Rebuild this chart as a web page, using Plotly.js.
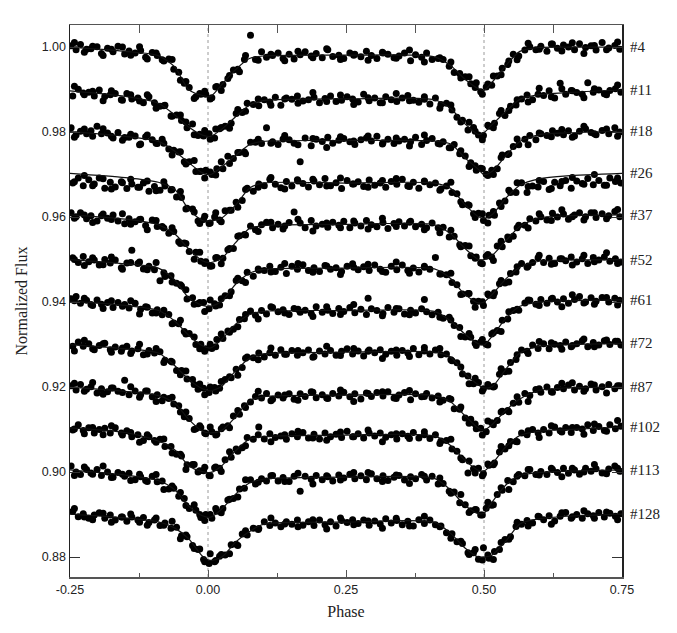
<!DOCTYPE html>
<html>
<head>
<meta charset="utf-8">
<script src="https://cdn.plot.ly/plotly-3.0.1.min.js"></script>
<style>html,body{margin:0;padding:0;background:#fff;}#chart{width:677px;height:633px;}</style>
</head>
<body>
<div id="chart"></div>
<script>
// ---- observation phases (three sampling sets) ----
const phaseA = [-0.248,-0.239,-0.231,-0.220,-0.212,-0.201,-0.193,-0.182,-0.172,-0.163,
-0.151,-0.143,-0.132,-0.122,-0.113,-0.101,-0.092,-0.083,-0.071,-0.062,
-0.053,-0.043,-0.034,-0.022,-0.013,-0.004,0.007,0.016,0.027,0.036,
0.046,0.057,0.066,0.077,0.086,0.097,0.106,0.117,0.127,0.136,
0.147,0.156,0.167,0.176,0.187,0.196,0.207,0.217,0.226,0.237,
0.246,0.257,0.266,0.277,0.287,0.296,0.306,0.317,0.326,0.337,
0.346,0.356,0.367,0.376,0.387,0.396,0.406,0.417,0.426,0.437,
0.446,0.456,0.466,0.476,0.486,0.494,0.504,0.514,0.524,0.533,
0.543,0.553,0.563,0.574,0.583,0.594,0.603,0.614,0.624,0.633,
0.644,0.653,0.664,0.673,0.684,0.694,0.703,0.714,0.726,0.737,0.746];
const phaseB = [-0.245,-0.235,-0.226,-0.216,-0.206,-0.197,-0.187,-0.177,-0.168,-0.157,
-0.147,-0.138,-0.127,-0.117,-0.107,-0.097,-0.087,-0.078,-0.067,-0.057,
-0.048,-0.038,-0.028,-0.018,-0.008,0.002,0.012,0.021,0.031,0.042,
0.051,0.062,0.071,0.082,0.092,0.102,0.112,0.122,0.132,0.142,
0.152,0.162,0.172,0.182,0.192,0.202,0.212,0.222,0.232,0.242,
0.252,0.262,0.272,0.282,0.292,0.302,0.312,0.322,0.332,0.342,
0.352,0.362,0.372,0.382,0.392,0.402,0.412,0.422,0.432,0.442,
0.451,0.461,0.471,0.481,0.490,0.499,0.509,0.519,0.528,0.538,
0.548,0.558,0.568,0.578,0.588,0.598,0.608,0.618,0.628,0.638,
0.648,0.658,0.668,0.678,0.688,0.698,0.708,0.718,0.728,0.738,0.748];
const phaseC = [-0.242,-0.224,-0.209,-0.190,-0.175,-0.155,-0.140,-0.124,-0.110,-0.094,
-0.080,-0.065,-0.050,-0.040,-0.025,-0.015,-0.006,0.004,0.014,0.024,
0.039,0.054,0.068,0.091,0.114,0.139,0.163,0.190,0.215,0.240,
0.264,0.290,0.316,0.341,0.365,0.392,0.420,0.440,0.458,0.473,
0.484,0.497,0.507,0.517,0.531,0.545,0.560,0.580,0.600,0.622,
0.641,0.660,0.681,0.700,0.722,0.742];

// ---- observed normalized flux per light curve (main set) ----
const flux04 = [1.0003,0.9994,1.0006,0.9995,0.9996,1.0001,0.9985,0.9997,0.9989,1.0002,
0.9984,0.9991,0.9986,0.9992,0.9976,0.9987,0.9980,0.9970,0.9972,0.9948,
0.9941,0.9915,0.9905,0.9883,0.9889,0.9889,0.9881,0.9907,0.9912,0.9926,
0.9946,0.9942,0.9971,1.0028,0.9971,0.9989,0.9976,0.9980,0.9986,0.9973,
0.9983,0.9972,0.9982,0.9989,0.9979,0.9985,0.9975,0.9994,0.9978,0.9981,
0.9973,0.9986,0.9983,0.9977,0.9990,0.9980,0.9973,0.9986,0.9983,0.9975,
0.9979,0.9986,0.9968,0.9982,0.9976,0.9986,0.9971,0.9973,0.9971,0.9955,
0.9940,0.9938,0.9930,0.9914,0.9916,0.9895,0.9906,0.9910,0.9932,0.9950,
0.9959,0.9983,0.9979,0.9993,1.0001,0.9994,1.0002,0.9990,1.0007,0.9997,
1.0005,1.0000,0.9994,1.0008,0.9999,1.0003,0.9993,1.0011,0.9998,1.0004,0.9995];
const flux11 = [0.9885,0.9901,0.9892,0.9894,0.9885,0.9899,0.9884,0.9888,0.9891,0.9876,
0.9891,0.9878,0.9880,0.9869,0.9883,0.9869,0.9861,0.9863,0.9838,0.9840,
0.9827,0.9810,0.9819,0.9792,0.9791,0.9796,0.9786,0.9808,0.9814,0.9821,
0.9844,0.9846,0.9868,0.9865,0.9862,0.9876,0.9871,0.9882,0.9863,0.9880,
0.9877,0.9885,0.9873,0.9876,0.9882,0.9869,0.9879,0.9885,0.9872,0.9875,
0.9883,0.9878,0.9871,0.9889,0.9874,0.9880,0.9869,0.9883,0.9876,0.9872,
0.9880,0.9886,0.9875,0.9870,0.9877,0.9866,0.9880,0.9865,0.9868,0.9852,
0.9835,0.9828,0.9805,0.9811,0.9793,0.9792,0.9814,0.9821,0.9844,0.9839,
0.9861,0.9864,0.9878,0.9887,0.9876,0.9889,0.9886,0.9897,0.9880,0.9915,
0.9889,0.9898,0.9893,0.9889,0.9916,0.9894,0.9899,0.9890,0.9898,0.9902,0.9894];
const flux18 = [0.9810,0.9793,0.9802,0.9796,0.9803,0.9814,0.9796,0.9798,0.9786,0.9799,
0.9787,0.9788,0.9791,0.9772,0.9789,0.9782,0.9773,0.9783,0.9760,0.9757,
0.9753,0.9730,0.9730,0.9707,0.9708,0.9710,0.9700,0.9714,0.9714,0.9743,
0.9738,0.9752,0.9753,0.9776,0.9776,0.9773,0.9810,0.9777,0.9771,0.9784,
0.9782,0.9774,0.9730,0.9786,0.9768,0.9783,0.9778,0.9788,0.9774,0.9781,
0.9785,0.9777,0.9771,0.9782,0.9786,0.9779,0.9790,0.9775,0.9783,0.9773,
0.9779,0.9783,0.9777,0.9788,0.9771,0.9780,0.9785,0.9773,0.9777,0.9763,
0.9771,0.9749,0.9744,0.9728,0.9710,0.9715,0.9701,0.9710,0.9714,0.9746,
0.9747,0.9766,0.9770,0.9783,0.9792,0.9782,0.9796,0.9792,0.9803,0.9797,
0.9794,0.9803,0.9791,0.9802,0.9808,0.9799,0.9794,0.9804,0.9796,0.9810,0.9800];
const flux26 = [0.9680,0.9692,0.9674,0.9688,0.9678,0.9692,0.9668,0.9682,0.9671,0.9683,
0.9667,0.9678,0.9670,0.9680,0.9661,0.9672,0.9663,0.9673,0.9664,0.9647,
0.9646,0.9621,0.9619,0.9591,0.9594,0.9585,0.9600,0.9593,0.9615,0.9616,
0.9635,0.9639,0.9668,0.9661,0.9678,0.9674,0.9689,0.9677,0.9669,0.9684,
0.9673,0.9688,0.9679,0.9671,0.9685,0.9676,0.9691,0.9674,0.9681,0.9667,
0.9686,0.9678,0.9683,0.9672,0.9687,0.9675,0.9680,0.9670,0.9684,0.9677,
0.9689,0.9673,0.9682,0.9668,0.9685,0.9676,0.9680,0.9666,0.9673,0.9658,
0.9655,0.9629,0.9629,0.9608,0.9609,0.9592,0.9604,0.9604,0.9633,0.9638,
0.9658,0.9658,0.9681,0.9658,0.9673,0.9671,0.9684,0.9665,0.9682,0.9674,
0.9686,0.9668,0.9685,0.9679,0.9691,0.9676,0.9686,0.9675,0.9692,0.9684,0.9680];
const flux37 = [0.9610,0.9601,0.9610,0.9596,0.9603,0.9591,0.9603,0.9597,0.9605,0.9591,
0.9584,0.9596,0.9589,0.9595,0.9580,0.9593,0.9578,0.9578,0.9562,0.9566,
0.9542,0.9539,0.9519,0.9517,0.9496,0.9495,0.9485,0.9505,0.9503,0.9523,
0.9526,0.9556,0.9559,0.9579,0.9570,0.9582,0.9588,0.9575,0.9583,0.9572,
0.9587,0.9612,0.9586,0.9575,0.9592,0.9579,0.9583,0.9576,0.9588,0.9581,
0.9590,0.9575,0.9586,0.9579,0.9592,0.9582,0.9577,0.9587,0.9573,0.9585,
0.9589,0.9579,0.9590,0.9577,0.9583,0.9575,0.9586,0.9575,0.9576,0.9553,
0.9555,0.9535,0.9533,0.9509,0.9506,0.9492,0.9508,0.9506,0.9532,0.9530,
0.9553,0.9555,0.9581,0.9581,0.9596,0.9591,0.9601,0.9593,0.9609,0.9600,
0.9607,0.9595,0.9605,0.9610,0.9601,0.9610,0.9599,0.9608,0.9603,0.9613,0.9601];
const flux52 = [0.9504,0.9493,0.9507,0.9495,0.9499,0.9487,0.9500,0.9492,0.9499,0.9481,
0.9492,0.9522,0.9491,0.9478,0.9484,0.9476,0.9450,0.9460,0.9462,0.9444,
0.9438,0.9407,0.9410,0.9396,0.9399,0.9384,0.9396,0.9393,0.9415,0.9424,
0.9451,0.9450,0.9470,0.9461,0.9475,0.9474,0.9484,0.9472,0.9482,0.9467,
0.9484,0.9477,0.9488,0.9474,0.9481,0.9472,0.9486,0.9477,0.9481,0.9472,
0.9484,0.9490,0.9476,0.9483,0.9474,0.9487,0.9477,0.9470,0.9484,0.9476,
0.9487,0.9474,0.9480,0.9471,0.9482,0.9477,0.9505,0.9466,0.9464,0.9446,
0.9441,0.9419,0.9420,0.9402,0.9402,0.9392,0.9416,0.9422,0.9443,0.9445,
0.9467,0.9471,0.9491,0.9482,0.9493,0.9504,0.9493,0.9503,0.9491,0.9502,
0.9497,0.9506,0.9494,0.9502,0.9491,0.9505,0.9499,0.9506,0.9496,0.9502,0.9494];
const flux61 = [0.9408,0.9413,0.9397,0.9404,0.9394,0.9405,0.9395,0.9399,0.9387,0.9399,
0.9394,0.9386,0.9397,0.9383,0.9389,0.9374,0.9382,0.9370,0.9371,0.9351,
0.9349,0.9331,0.9326,0.9300,0.9301,0.9290,0.9291,0.9312,0.9314,0.9332,
0.9336,0.9359,0.9361,0.9379,0.9369,0.9380,0.9372,0.9387,0.9377,0.9382,
0.9371,0.9385,0.9376,0.9381,0.9373,0.9389,0.9376,0.9381,0.9373,0.9385,
0.9378,0.9387,0.9375,0.9383,0.9371,0.9384,0.9380,0.9373,0.9387,0.9376,
0.9384,0.9372,0.9381,0.9374,0.9384,0.9377,0.9370,0.9376,0.9362,0.9364,
0.9345,0.9340,0.9318,0.9317,0.9298,0.9306,0.9301,0.9325,0.9333,0.9357,
0.9360,0.9380,0.9381,0.9398,0.9404,0.9395,0.9406,0.9397,0.9409,0.9400,
0.9408,0.9397,0.9406,0.9413,0.9400,0.9410,0.9402,0.9411,0.9400,0.9409,0.9404];
const flux72 = [0.9296,0.9306,0.9296,0.9302,0.9288,0.9298,0.9303,0.9288,0.9294,0.9284,
0.9296,0.9285,0.9290,0.9276,0.9286,0.9280,0.9283,0.9263,0.9261,0.9239,
0.9239,0.9219,0.9218,0.9195,0.9197,0.9187,0.9199,0.9197,0.9218,0.9222,
0.9242,0.9246,0.9271,0.9269,0.9280,0.9271,0.9281,0.9275,0.9288,0.9277,
0.9286,0.9275,0.9281,0.9287,0.9272,0.9285,0.9278,0.9286,0.9275,0.9284,
0.9290,0.9278,0.9285,0.9273,0.9287,0.9281,0.9288,0.9277,0.9284,0.9275,
0.9286,0.9280,0.9291,0.9276,0.9285,0.9278,0.9287,0.9276,0.9278,0.9262,
0.9257,0.9231,0.9226,0.9208,0.9211,0.9196,0.9202,0.9202,0.9230,0.9236,
0.9258,0.9265,0.9287,0.9284,0.9299,0.9291,0.9302,0.9290,0.9301,0.9298,
0.9306,0.9295,0.9302,0.9309,0.9295,0.9305,0.9299,0.9309,0.9300,0.9308,0.9299];
const flux87 = [0.9203,0.9193,0.9206,0.9195,0.9201,0.9186,0.9196,0.9189,0.9198,0.9190,
0.9216,0.9182,0.9191,0.9182,0.9191,0.9177,0.9182,0.9168,0.9173,0.9160,
0.9156,0.9130,0.9126,0.9102,0.9105,0.9090,0.9095,0.9089,0.9106,0.9109,
0.9132,0.9136,0.9156,0.9165,0.9178,0.9174,0.9185,0.9171,0.9181,0.9174,
0.9184,0.9171,0.9184,0.9178,0.9189,0.9175,0.9182,0.9173,0.9185,0.9179,
0.9188,0.9177,0.9184,0.9172,0.9186,0.9178,0.9187,0.9179,0.9189,0.9174,
0.9181,0.9187,0.9170,0.9184,0.9177,0.9185,0.9174,0.9179,0.9169,0.9173,
0.9149,0.9148,0.9127,0.9124,0.9102,0.9103,0.9095,0.9116,0.9121,0.9143,
0.9145,0.9162,0.9164,0.9185,0.9180,0.9194,0.9188,0.9200,0.9188,0.9199,
0.9196,0.9205,0.9193,0.9202,0.9196,0.9207,0.9193,0.9201,0.9206,0.9196,0.9203];
const flux102 = [0.9099,0.9111,0.9098,0.9104,0.9092,0.9100,0.9103,0.9092,0.9104,0.9092,
0.9097,0.9083,0.9088,0.9074,0.9083,0.9074,0.9077,0.9060,0.9060,0.9042,
0.9038,0.9017,0.9018,0.9000,0.9003,0.8992,0.9010,0.9009,0.9029,0.9035,
0.9054,0.9057,0.9081,0.9077,0.9106,0.9078,0.9090,0.9081,0.9085,0.9077,
0.9090,0.9083,0.9093,0.9080,0.9089,0.9078,0.9092,0.9083,0.9089,0.9081,
0.9096,0.9083,0.9090,0.9080,0.9092,0.9085,0.9092,0.9082,0.9088,0.9078,
0.9090,0.9084,0.9093,0.9080,0.9088,0.9079,0.9088,0.9073,0.9074,0.9054,
0.9049,0.9029,0.8998,0.9008,0.9009,0.8996,0.9016,0.9021,0.9047,0.9054,
0.9072,0.9072,0.9092,0.9088,0.9100,0.9092,0.9100,0.9092,0.9106,0.9097,
0.9105,0.9093,0.9105,0.9101,0.9111,0.9098,0.9107,0.9098,0.9111,0.9102,0.9108];
const flux113 = [0.9014,0.9000,0.8994,0.9006,0.8998,0.9006,0.8992,0.9000,0.8988,0.8999,
0.8990,0.8997,0.8982,0.8989,0.8980,0.8990,0.8977,0.8979,0.8960,0.8962,
0.8943,0.8938,0.8914,0.8910,0.8893,0.8900,0.8891,0.8908,0.8914,0.8934,
0.8938,0.8960,0.8962,0.8982,0.8972,0.8984,0.8979,0.8992,0.8979,0.8987,
0.8978,0.8990,0.8955,0.8990,0.8983,0.8992,0.8982,0.8989,0.8979,0.8993,
0.8986,0.8995,0.8984,0.8991,0.8982,0.8996,0.8984,0.8991,0.8980,0.8988,
0.8992,0.8981,0.8989,0.8984,0.8994,0.8981,0.8990,0.8972,0.8973,0.8955,
0.8953,0.8928,0.8923,0.8909,0.8911,0.8899,0.8915,0.8922,0.8947,0.8957,
0.8980,0.8977,0.8994,0.8991,0.9006,0.8994,0.9001,0.8994,0.9006,0.8999,
0.9009,0.8997,0.9005,0.8995,0.9009,0.9002,0.9008,0.8998,0.9007,0.9014,0.9002];
const flux128 = [0.8907,0.8895,0.8902,0.8891,0.8899,0.8904,0.8891,0.8899,0.8887,0.8894,
0.8884,0.8894,0.8887,0.8893,0.8881,0.8887,0.8874,0.8880,0.8868,0.8870,
0.8850,0.8848,0.8827,0.8818,0.8794,0.8785,0.8789,0.8802,0.8805,0.8829,
0.8830,0.8854,0.8852,0.8868,0.8867,0.8883,0.8874,0.8880,0.8871,0.8883,
0.8877,0.8887,0.8875,0.8883,0.8874,0.8887,0.8876,0.8883,0.8873,0.8886,
0.8881,0.8888,0.8879,0.8887,0.8875,0.8885,0.8878,0.8890,0.8880,0.8886,
0.8876,0.8884,0.8873,0.8888,0.8879,0.8887,0.8876,0.8873,0.8857,0.8855,
0.8836,0.8832,0.8810,0.8810,0.8795,0.8822,0.8797,0.8813,0.8818,0.8841,
0.8848,0.8872,0.8877,0.8886,0.8880,0.8896,0.8888,0.8897,0.8885,0.8896,
0.8905,0.8891,0.8900,0.8891,0.8902,0.8897,0.8905,0.8894,0.8903,0.8896,0.8902];

// ---- additional observations at phaseC ----
const extra04 = [1.0011,0.9988,1.0002,0.9980,0.9995,1.0000,0.9981,1.0001,0.9972,0.9986,
0.9967,0.9971,0.9922,0.9919,0.9879,0.9891,0.9896,0.9878,0.9906,0.9898,
0.9933,0.9948,0.9980,0.9969,0.9983,0.9968,0.9990,0.9975,0.9996,0.9971,
0.9981,0.9969,0.9988,0.9974,0.9993,0.9965,0.9975,0.9965,0.9927,0.9930,
0.9905,0.9889,0.9913,0.9932,0.9935,0.9967,0.9970,1.0009,0.9995,1.0007,
0.9991,1.0010,0.9985,1.0004,0.9994,1.0012];
const extra11 = [0.9908,0.9888,0.9896,0.9874,0.9897,0.9875,0.9888,0.9873,0.9888,0.9856,
0.9862,0.9837,0.9840,0.9824,0.9794,0.9795,0.9804,0.9783,0.9807,0.9811,
0.9809,0.9853,0.9849,0.9878,0.9863,0.9878,0.9868,0.9893,0.9872,0.9887,
0.9865,0.9881,0.9869,0.9891,0.9874,0.9883,0.9856,0.9864,0.9824,0.9823,
0.9802,0.9782,0.9816,0.9810,0.9851,0.9851,0.9876,0.9871,0.9903,0.9883,
0.9902,0.9897,0.9881,0.9902,0.9888,0.9911];
const extra18 = [0.9788,0.9807,0.9790,0.9808,0.9790,0.9781,0.9795,0.9770,0.9793,0.9774,
0.9774,0.9746,0.9754,0.9725,0.9733,0.9707,0.9692,0.9706,0.9699,0.9730,
0.9726,0.9752,0.9749,0.9783,0.9774,0.9792,0.9770,0.9785,0.9764,0.9789,
0.9779,0.9791,0.9772,0.9786,0.9767,0.9793,0.9772,0.9763,0.9756,0.9719,
0.9721,0.9714,0.9698,0.9700,0.9740,0.9749,0.9784,0.9770,0.9798,0.9789,
0.9806,0.9788,0.9814,0.9796,0.9807,0.9790];
const extra26 = [0.9683,0.9698,0.9674,0.9690,0.9666,0.9681,0.9689,0.9670,0.9685,0.9662,
0.9683,0.9665,0.9660,0.9619,0.9612,0.9585,0.9602,0.9586,0.9610,0.9589,
0.9616,0.9623,0.9665,0.9670,0.9693,0.9666,0.9685,0.9689,0.9673,0.9692,
0.9678,0.9670,0.9686,0.9691,0.9672,0.9683,0.9663,0.9682,0.9636,0.9628,
0.9599,0.9608,0.9586,0.9613,0.9625,0.9663,0.9681,0.9672,0.9686,0.9667,
0.9684,0.9693,0.9677,0.9700,0.9675,0.9692];
const extra37 = [0.9597,0.9605,0.9587,0.9607,0.9594,0.9608,0.9583,0.9594,0.9570,0.9592,
0.9574,0.9575,0.9538,0.9538,0.9501,0.9517,0.9491,0.9484,0.9504,0.9490,
0.9526,0.9555,0.9558,0.9566,0.9588,0.9579,0.9595,0.9567,0.9586,0.9575,
0.9591,0.9572,0.9597,0.9578,0.9588,0.9570,0.9563,0.9569,0.9530,0.9532,
0.9503,0.9490,0.9512,0.9498,0.9543,0.9547,0.9575,0.9574,0.9608,0.9592,
0.9617,0.9601,0.9593,0.9610,0.9596,0.9618];
const extra52 = [0.9500,0.9486,0.9504,0.9488,0.9506,0.9477,0.9493,0.9494,0.9476,0.9493,
0.9469,0.9447,0.9441,0.9429,0.9395,0.9399,0.9378,0.9405,0.9391,0.9408,
0.9415,0.9456,0.9446,0.9478,0.9471,0.9491,0.9491,0.9470,0.9485,0.9465,
0.9482,0.9489,0.9472,0.9494,0.9468,0.9484,0.9466,0.9468,0.9418,0.9420,
0.9388,0.9401,0.9419,0.9415,0.9451,0.9447,0.9483,0.9485,0.9510,0.9489,
0.9502,0.9487,0.9510,0.9495,0.9516,0.9491];
const extra61 = [0.9403,0.9409,0.9392,0.9385,0.9403,0.9390,0.9403,0.9372,0.9388,0.9374,
0.9381,0.9349,0.9357,0.9325,0.9318,0.9290,0.9284,0.9301,0.9295,0.9325,
0.9329,0.9342,0.9371,0.9360,0.9389,0.9374,0.9383,0.9366,0.9389,0.9371,
0.9394,0.9409,0.9368,0.9385,0.9370,0.9406,0.9364,0.9358,0.9319,0.9326,
0.9303,0.9312,0.9299,0.9328,0.9331,0.9377,0.9383,0.9405,0.9392,0.9407,
0.9389,0.9417,0.9398,0.9395,0.9411,0.9393];
const extra72 = [0.9285,0.9310,0.9290,0.9302,0.9282,0.9292,0.9279,0.9301,0.9278,0.9291,
0.9258,0.9259,0.9229,0.9238,0.9206,0.9207,0.9182,0.9200,0.9191,0.9213,
0.9224,0.9228,0.9268,0.9264,0.9292,0.9277,0.9286,0.9270,0.9296,0.9274,
0.9291,0.9284,0.9267,0.9287,0.9272,0.9293,0.9291,0.9264,0.9247,0.9208,
0.9221,0.9191,0.9206,0.9200,0.9243,0.9237,0.9276,0.9279,0.9307,0.9304,
0.9289,0.9298,0.9313,0.9295,0.9311,0.9308];
const extra87 = [0.9209,0.9190,0.9211,0.9183,0.9198,0.9187,0.9201,0.9176,0.9191,0.9166,
0.9176,0.9176,0.9141,0.9141,0.9100,0.9109,0.9092,0.9106,0.9087,0.9102,
0.9104,0.9145,0.9152,0.9190,0.9168,0.9181,0.9169,0.9188,0.9174,0.9193,
0.9166,0.9185,0.9189,0.9173,0.9192,0.9178,0.9165,0.9171,0.9153,0.9115,
0.9113,0.9087,0.9120,0.9111,0.9141,0.9142,0.9177,0.9166,0.9196,0.9189,
0.9209,0.9210,0.9190,0.9205,0.9186,0.9203];
const extra102 = [0.9101,0.9090,0.9105,0.9088,0.9109,0.9087,0.9093,0.9070,0.9088,0.9070,
0.9078,0.9045,0.9042,0.9006,0.9018,0.9003,0.9011,0.8991,0.9012,0.9001,
0.9048,0.9049,0.9062,0.9088,0.9071,0.9088,0.9096,0.9080,0.9075,0.9094,
0.9083,0.9099,0.9071,0.9090,0.9079,0.9095,0.9067,0.9077,0.9033,0.9026,
0.8998,0.8991,0.9019,0.9017,0.9060,0.9062,0.9071,0.9097,0.9081,0.9109,
0.9094,0.9105,0.9089,0.9113,0.9096,0.9121];
const extra113 = [0.8992,0.9012,0.8995,0.9014,0.8987,0.8995,0.8980,0.8995,0.8978,0.8994,
0.8959,0.8967,0.8952,0.8921,0.8923,0.8900,0.8886,0.8900,0.8914,0.8904,
0.8936,0.8941,0.8982,0.8976,0.8991,0.8978,0.8997,0.8972,0.8991,0.8981,
0.8999,0.8999,0.8978,0.8993,0.8973,0.8990,0.8986,0.8950,0.8947,0.8905,
0.8912,0.8899,0.8929,0.8923,0.8963,0.8959,0.8990,0.9006,0.8993,0.9009,
0.8989,0.9009,0.9000,0.9018,0.8996,0.9009];
const extra128 = [0.8914,0.8894,0.8888,0.8903,0.8882,0.8894,0.8901,0.8882,0.8875,0.8892,
0.8875,0.8884,0.8843,0.8852,0.8820,0.8819,0.8789,0.8808,0.8792,0.8806,
0.8808,0.8827,0.8862,0.8865,0.8892,0.8878,0.8871,0.8888,0.8866,0.8892,
0.8876,0.8885,0.8868,0.8891,0.8873,0.8896,0.8871,0.8844,0.8837,0.8806,
0.8818,0.8793,0.8805,0.8794,0.8834,0.8842,0.8882,0.8873,0.8895,0.8877,
0.8904,0.8895,0.8909,0.8891,0.8906,0.8888];

// ---- fitted model curves (knots) ----
const modelPhase = [-0.25,-0.15,-0.09,-0.06,-0.035,-0.01,0.005,0.025,0.05,0.075,0.10,0.25,0.41,0.44,0.465,0.49,0.50,0.515,0.54,0.565,0.60,0.65,0.75];
const model04  = [1.0000,0.9990,0.9980,0.9953,0.9900,0.9886,0.9884,0.9912,0.9947,0.9973,0.9979,0.9981,0.9977,0.9956,0.9925,0.9902,0.9898,0.9918,0.9957,0.9990,0.9999,1.0000,1.0000];
const model11  = [0.9897,0.9884,0.9868,0.9840,0.9812,0.9793,0.9790,0.9807,0.9836,0.9863,0.9874,0.9878,0.9876,0.9855,0.9820,0.9794,0.9799,0.9818,0.9849,0.9877,0.9888,0.9893,0.9899];
const model18  = [0.9801,0.9790,0.9778,0.9755,0.9728,0.9704,0.9700,0.9718,0.9745,0.9770,0.9778,0.9780,0.9779,0.9772,0.9740,0.9712,0.9700,0.9708,0.9745,0.9778,0.9794,0.9798,0.9802];
const model26  = [0.9703,0.9693,0.9682,0.9665,0.9618,0.9592,0.9591,0.9598,0.9628,0.9668,0.9680,0.9680,0.9680,0.9667,0.9630,0.9601,0.9597,0.9606,0.9645,0.9675,0.9690,0.9697,0.9703];
const model37  = [0.9605,0.9595,0.9582,0.9560,0.9525,0.9497,0.9493,0.9503,0.9540,0.9573,0.9580,0.9583,0.9582,0.9560,0.9527,0.9500,0.9500,0.9510,0.9545,0.9578,0.9598,0.9603,0.9605];
const model52  = [0.9500,0.9490,0.9480,0.9452,0.9410,0.9392,0.9390,0.9402,0.9442,0.9468,0.9477,0.9480,0.9478,0.9455,0.9418,0.9398,0.9400,0.9418,0.9455,0.9482,0.9496,0.9499,0.9500];
const model61  = [0.9402,0.9392,0.9380,0.9355,0.9322,0.9297,0.9292,0.9312,0.9348,0.9370,0.9378,0.9380,0.9378,0.9355,0.9325,0.9302,0.9299,0.9320,0.9362,0.9390,0.9400,0.9403,0.9405];
const model72  = [0.9300,0.9290,0.9280,0.9250,0.9218,0.9196,0.9191,0.9202,0.9238,0.9268,0.9278,0.9282,0.9282,0.9270,0.9232,0.9205,0.9198,0.9201,0.9243,0.9280,0.9296,0.9300,0.9303];
const model87  = [0.9200,0.9190,0.9180,0.9162,0.9124,0.9096,0.9092,0.9098,0.9130,0.9168,0.9177,0.9181,0.9180,0.9165,0.9133,0.9103,0.9099,0.9112,0.9146,0.9172,0.9192,0.9198,0.9200];
const model102 = [0.9104,0.9093,0.9073,0.9052,0.9015,0.9001,0.8999,0.9015,0.9050,0.9077,0.9083,0.9087,0.9085,0.9062,0.9028,0.9004,0.9002,0.9020,0.9060,0.9086,0.9096,0.9100,0.9106];
const model113 = [0.9005,0.8993,0.8980,0.8958,0.8920,0.8897,0.8894,0.8913,0.8948,0.8974,0.8983,0.8988,0.8985,0.8957,0.8922,0.8902,0.8903,0.8930,0.8970,0.8992,0.8999,0.9002,0.9005];
const model128 = [0.8901,0.8892,0.8883,0.8868,0.8843,0.8802,0.8792,0.8800,0.8835,0.8860,0.8877,0.8882,0.8882,0.8855,0.8822,0.8800,0.8800,0.8805,0.8838,0.8878,0.8890,0.8896,0.8901];

const curveLabels = ['#4','#11','#18','#26','#37','#52','#61','#72','#87','#102','#113','#128'];
const fluxSets  = [flux04,flux11,flux18,flux26,flux37,flux52,flux61,flux72,flux87,flux102,flux113,flux128];
const extraSets = [extra04,extra11,extra18,extra26,extra37,extra52,extra61,extra72,extra87,extra102,extra113,extra128];
const modelSets = [model04,model11,model18,model26,model37,model52,model61,model72,model87,model102,model113,model128];
const phaseSets = [phaseA,phaseB,phaseA,phaseB,phaseA,phaseB,phaseA,phaseB,phaseA,phaseB,phaseA,phaseB];

const xTickVals = [-0.25,0,0.25,0.5,0.75];
const xTickText = ['-0.25','0.00','0.25','0.50','0.75'];
const xMinorVals = [-0.125,0.125,0.375,0.625];
const xTopTickVals = [-0.125,0,0.125,0.25,0.375,0.5,0.625];
const yTickVals = [0.88,0.90,0.92,0.94,0.96,0.98,1.00];
const eclipsePhases = [0, 0.5];

const serif = 'Liberation Serif, Times New Roman, serif';
const sans = 'Liberation Sans, Arial, Helvetica, sans-serif';

const traces = [];
fluxSets.forEach((f, i) => {
  traces.push({x: phaseSets[i].concat(phaseC), y: f.concat(extraSets[i]), type: 'scatter', mode: 'markers',
    marker: {size: 7, color: '#000'}, hoverinfo: 'skip'});
});
modelSets.forEach((m) => {
  traces.push({x: modelPhase, y: m, type: 'scatter', mode: 'lines',
    line: {color: '#111', width: 1.2, shape: 'spline', smoothing: 0.7}, hoverinfo: 'skip'});
});
// empty trace that carries the top axis
traces.push({x: [], y: [], xaxis: 'x2', yaxis: 'y', type: 'scatter', mode: 'markers', showlegend: false});

const annotations = curveLabels.map((lab, i) => ({
  x: 1, xref: 'paper', xanchor: 'left', xshift: 6,
  y: modelSets[i][modelSets[i].length - 1], yref: 'y', yanchor: 'middle',
  text: lab, showarrow: false, font: {family: serif, size: 15, color: '#222'}
}));

const shapes = eclipsePhases.map(p => ({
  type: 'line', xref: 'x', yref: 'paper', x0: p, x1: p, y0: 0, y1: 1,
  line: {color: '#9a9a9a', width: 1, dash: 'dot'}, layer: 'below'
}));

const layout = {
  width: 677, height: 633,
  margin: {l: 70, r: 55, t: 25, b: 56},
  paper_bgcolor: '#fff', plot_bgcolor: '#fff',
  showlegend: false,
  font: {family: sans, size: 12.5, color: '#222'},
  xaxis: {
    range: [-0.25, 0.75], tickmode: 'array', tickvals: xTickVals, ticktext: xTickText,
    ticks: 'inside', ticklen: 7, tickwidth: 1, tickcolor: '#555',
    minor: {tickmode: 'array', tickvals: xMinorVals, ticks: 'inside', ticklen: 4, tickwidth: 1, tickcolor: '#555', showgrid: false},
    showline: true, linecolor: '#555', linewidth: 1.5, showgrid: false, zeroline: false,
    tickfont: {family: sans, size: 12.5, color: '#222'},
    title: {text: 'Phase', font: {family: serif, size: 16, color: '#222'}, standoff: 10}
  },
  xaxis2: {
    overlaying: 'x', side: 'top', anchor: 'y', range: [-0.25, 0.75],
    tickmode: 'array', tickvals: xTopTickVals,
    ticks: 'inside', ticklen: 8, tickwidth: 1, tickcolor: '#555',
    showticklabels: false, showline: true, linecolor: '#555', linewidth: 1.5,
    showgrid: false, zeroline: false
  },
  yaxis: {
    range: [0.8753, 1.0052], tickmode: 'array', tickvals: yTickVals, tickformat: '.2f',
    ticks: 'inside', ticklen: 10, tickwidth: 1, tickcolor: '#333', mirror: 'ticks',
    showline: true, linecolor: '#222', linewidth: 1.5, showgrid: false, zeroline: false,
    tickfont: {family: sans, size: 12.5, color: '#222'},
    title: {text: 'Normalized Flux', font: {family: serif, size: 16, color: '#222'}, standoff: 10}
  },
  shapes: shapes,
  annotations: annotations
};

Plotly.newPlot('chart', traces, layout, {displayModeBar: false, staticPlot: true});
</script>
</body>
</html>
